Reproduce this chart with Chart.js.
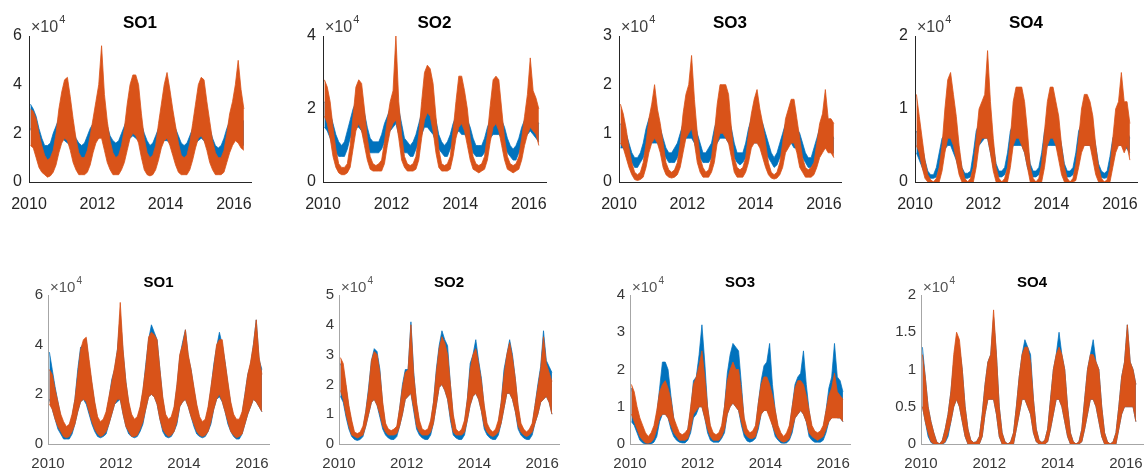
<!DOCTYPE html>
<html>
<head>
<meta charset="utf-8">
<script src="https://cdn.jsdelivr.net/npm/chart.js@4.4.0/dist/chart.umd.min.js"></script>
<style>
body { margin:0; background:#fff; width:1144px; height:468px; position:relative; overflow:hidden; }
canvas { position:absolute; }
</style>
</head>
<body>
<script>
// monthly high / low envelope of each daily series, Jan 2010 .. Apr 2016, in thousands
// row a (top)
var a1BlueHi   = [32,30,27,22,18,15,15,16,20,23,26,27, 26,25,24,21,18,16,15,16,19,22,24,26, 28,30,27,23,19,17,16,17,20,23,26,28, 28,28,27,24,20,17,15,16,19,22,26,28, 28,26,25,22,19,16,15,16,19,22,26,28, 28,27,25,22,18,15,14,15,18,22,25,27, 28,27,26,25];
var a1BlueLo   = [22,19,15,12,10,8,8,9,11,14,17,18, 17,16,15,13,11,10,10,10,12,14,16,17, 18,19,17,14,11,10,10,10,12,14,17,18, 19,18,17,15,12,10,9,9,11,14,16,17, 17,16,15,13,11,10,9,9,11,14,16,17, 18,17,15,13,11,9,8,9,11,14,16,17, 18,17,16,15];
var a1OrangeHi = [30,29,26,20,15,11,9,10,13,20,30,37, 42,43,35,26,18,12,10,10,13,19,26,33, 40,56,36,25,17,12,10,11,15,22,32,40, 44,44,40,28,18,12,10,11,15,24,32,40, 45,38,30,23,16,11,10,11,16,24,32,40, 43,42,33,25,17,12,10,10,13,20,28,33, 40,50,38,30];
var a1OrangeLo = [15,14,10,6,4,3,2,2.5,4,7,12,16, 18,17,13,8,5,3,3,3,4,7,12,16, 18,18,13,8,5,3,3,3,5,8,13,18, 20,19,16,10,5,3,2.5,3,5,9,14,17, 18,15,11,7,4,3,3,3,5,9,14,18, 19,17,13,8,5,3,3,3,4,8,12,15, 17,16,14,13];

var a2BlueHi   = [22,21,19,16,13,11,10,11,14,17,20,22, 23,22,19,15,12,11,11,11,13,16,18,20, 22,25,20,16,12,11,10,11,13,16,19,21, 22,21,20,17,13,11,10,11,13,16,18,20, 20,19,17,15,12,10,10,10,12,15,17,19, 19,18,17,15,12,10,9,10,12,15,17,19, 20,18,17,16];
var a2BlueLo   = [15,14,12,10,8,7,7,7,9,12,14,15, 15,14,12,10,8,8,8,8,9,11,13,14, 15,16,13,10,8,8,7,7,9,11,13,15, 15,14,13,11,9,8,7,7,9,11,13,14, 13,13,12,10,8,7,7,7,8,10,12,13, 13,13,12,10,8,7,6,6,8,10,12,13, 14,13,12,11];
var a2OrangeHi = [28,26,22,15,9,5,4,4,5,10,18,26, 28,27,20,12,7,5,4.5,5,6,11,17,22, 25,40,22,13,7,5,4.5,5,7,13,22,30, 32,31,27,18,9,5,4.5,5,7,14,22,29, 29,25,20,12,7,5,4.5,5,7,13,21,28, 29,28,20,12,7,5,4.5,5,7,12,18,24, 34,25,23,20];
var a2OrangeLo = [18,16,12,7,4,2.5,2,2,2.5,4,9,14, 16,14,10,6,3.5,3,3,3,3,5,10,14, 16,17,12,6,4,3,3,3,3.5,6,12,17, 19,18,14,8,4,3,3,3,3.5,7,12,15, 16,14,10,6,3.5,3,2.5,3,3.5,6,11,15, 16,14,10,6,3.5,3,2.5,3,3.5,6,10,13, 15,14,13,10];

var a3BlueHi   = [12,11,10,8,6,5,5,6,8,11,13,14, 14,12,11,9,7,6,6,7,8,10,12,14, 15,16,13,10,8,6,6,7,8,11,13,14, 15,14,13,11,8,6,6,6,8,11,13,14, 14,13,12,10,8,6,5,6,8,10,12,13, 13,12,11,10,8,6,5,5,7,9,11,12, 12,11,10,9];
var a3BlueLo   = [7,7,6,5,4,3,3,4,5,7,8,8, 8,8,7,6,5,4,4,4,5,7,8,9, 9,9,8,6,5,4,4,4,5,7,8,9, 9,9,8,7,5,4,3.5,4,5,7,8,8, 8,8,7,6,5,4,3,3.5,5,6,7,8, 8,7,7,6,5,4,3,3,4,6,7,7, 7,7,6,6];
var a3OrangeHi = [16,14,11,7,4,2,1.5,2,4,8,13,16, 20,15,12,8,4,2.5,2,2.5,4,8,14,18, 20,26,17,10,5,3,2,2.5,5,10,16,20, 20,20,18,11,5,3,2.5,3,5,10,14,17, 19,15,12,8,4,2,1.5,2,4,8,13,15, 17,17,13,9,5,3,2.5,3,4,8,12,14, 19,13,13,12];
var a3OrangeLo = [8,7,5,3,1.5,0.5,0.3,0.5,1,3,6,8, 9,8,6,3,1.5,1,0.8,1,1.5,3,6,9, 10,11,8,4,2,1,1,1,2,4,8,10, 10,9,8,5,2,1,1,1,2,4,7,8, 8,7,5,3,1.5,0.8,0.6,0.8,1.5,3,6,7, 8,8,6,3,2,1,1,1,1.5,3,5,6, 7,6,6,5];

var a4BlueHi   = [7,6,5,3,1.5,1,1,2,4,6,6.5,7, 8,7,6,4,2,1.2,1.2,1.5,4,7,8,9, 9,10,8,5,2.5,1.5,1.5,2,4,7,8,8, 8,8,7,5,2.5,1.5,1.5,2,4,7,8,8, 9,8,7,5,2.5,1.5,1.5,2,4,7,8,8, 8,8,7,5,2.5,1.5,1.2,1.5,3.5,6,7,8, 9,8,7,6];
var a4BlueLo   = [4,3,2,1,0.5,0.5,0.5,0.7,2,4,4.5,5, 5,4,3,1.5,0.8,0.5,0.5,0.7,2,4,5,5.5, 6,6,4,2,1,0.7,0.7,1,2,4,5,5, 5,5,4,2,1,0.7,0.7,1,2,4,5,5, 5,5,4,2,1,0.7,0.7,1,2,4,5,5, 5,5,4,2,1,0.6,0.5,0.6,1.5,4,5,5, 5,5,4.5,4];
var a4OrangeHi = [12,9,6,3,1,0.3,0,0.5,2,5,10,14, 15,12,9,5,2,0.5,0,0.5,2,6,10,11, 12,18,11,6,2,0.5,0,0.5,2,6,11,13, 13,13,11,7,2,0.5,0,0.5,2.5,7,11,13, 13,11,9,5,2,0.5,0,0.5,2.5,6,10,12, 12,11,9,5,2,0.5,0,0.3,2,6,10,11, 15,11,11,8];
var a4OrangeLo = [5,4,2,0.5,0,0,0,0,0,1.5,4,6, 6,5,3,1,0,0,0,0,0,2,5,6, 6,6,4,1.5,0,0,0,0,0,2,5,6, 6,5,4,2,0,0,0,0,0,2,5,6, 6,5,3,1,0,0,0,0,0.2,2,4,5, 5,5,3,1,0,0,0,0,0,2,4,5, 5,4,5,3];

// row b (bottom)
var b1BlueHi   = [37,30,23,17,11,8,6,7,11,18,30,39, 40,42,32,24,16,10,8,9,12,18,26,30, 38,52,37,25,16,11,9,10,14,21,32,42, 48,45,42,30,18,11,9,10,14,23,35,41, 46,35,30,22,15,10,8,9,14,22,32,39, 45,40,33,24,16,11,8,9,12,20,28,32, 40,50,34,30];
var b1BlueLo   = [18,14,10,6,4,2,2,2,4,8,13,17, 18,16,12,8,5,3,2.5,3,4,8,12,16, 17,18,12,7,4,3,2.5,3,5,8,14,19, 20,19,16,10,5,3,2.5,3,5,8,15,17, 18,15,11,7,4,3,2.5,3,5,8,14,18, 19,17,13,8,5,3,2,2,4,8,12,15, 18,17,15,13];
var b1OrangeHi = [30,28,22,17,12,9,7,8,12,18,28,38, 42,43,34,25,17,11,9,10,13,19,25,31, 38,57,38,25,17,12,10,11,15,22,31,43, 45,44,42,30,19,12,10,11,15,24,36,40, 46,36,30,23,16,11,9,10,15,23,31,40, 42,42,33,25,17,12,10,10,13,20,28,33, 40,50,35,28];
var b1OrangeLo = [16,14,10,7,5,3,2.5,3,5,8,13,17, 18,17,13,9,6,4,3,3.5,5,8,12,16, 18,18,12,7,5,3,3,3.5,6,9,14,19, 20,19,16,10,6,4,3,3.5,5,9,15,17, 18,15,11,8,5,3.5,3,3.5,5,9,14,18, 20,17,13,9,5,3.5,2.5,3,4,8,12,15, 18,17,15,13];

var b2BlueHi   = [27,25,19,12,7,3,2.5,3,5,11,19,28, 32,31,25,13,6,4,3,3.5,5,12,20,25, 25,41,24,13,7,4,3,3.5,7,14,25,33, 38,35,33,20,9,4,3,4,7,15,27,30, 35,28,22,12,6,4,3,3.5,7,14,25,30, 35,30,22,12,6,4,3,3.5,6,13,20,26, 38,28,26,24];
var b2BlueLo   = [16,14,9,5,2.5,1.5,1.2,1.5,2.5,6,10,14, 15,13,9,5,3,2,1.5,1.5,2.5,6,10,15, 16,17,11,5,3,2,1.5,1.5,3,7,13,19, 20,18,15,8,3,2,1.5,1.5,3,8,13,16, 17,15,11,5,3,2,1.5,1.5,3,7,12,17, 17,15,11,5,3,2,1.5,1.5,3,7,10,14, 15,16,14,10];
var b2OrangeHi = [29,27,20,13,8,4,3.5,4,6,11,18,28, 31,30,24,14,7,5,4.5,5,6,12,19,24, 25,40,23,14,8,5,4.5,5,8,14,24,32, 36,34,30,20,10,5,4,5,8,15,25,30, 32,27,21,13,7,5,4,5,8,14,23,30, 34,29,22,13,7,5,4,5,7,13,19,25, 36,27,24,21];
var b2OrangeLo = [18,15,10,6,3,2.5,2,2.5,3,6,10,14, 15,13,10,6,4,3,3,3,3.5,6,10,15, 16,17,12,6,4,3,3,3,4,7,13,19, 20,18,15,9,4,3,3,3,4,8,13,16, 17,15,11,6,4,3,2.5,3,4,7,12,17, 17,15,11,6,4,3,2.5,3,4,7,10,14, 15,16,14,10];

var b3BlueHi   = [15,12,8,5,3,1.5,1,1.5,4,8,15,22, 22,20,13,7,3.5,2,1.5,2,4,9,17,18, 24,32,22,10,4,2,1.5,2,4,10,19,24, 27,26,25,16,6,3,2,2.5,4,11,17,21, 22,27,16,9,4,2,1.5,2,4,10,16,18, 19,25,16,9,4,2.5,2,2.5,4,9,15,18, 27,18,17,14];
var b3BlueLo   = [6,5,3,1,0.3,0,0,0,0.5,2,6,8, 8,7,4,2,1,0.5,0.3,0.3,1,3,7,8, 10,10,7,3,1,0.5,0.5,0.5,1.5,3,8,10, 11,10,9,5,2,0.8,0.5,0.8,1.5,4,8,9, 9,8,5,2,1,0.3,0.2,0.3,1,3,7,8, 9,8,6,2,1,0.5,0.5,0.5,1,3,6,7, 8,7,7,6];
var b3OrangeHi = [16,14,10,7,5,3,2,3,5,9,14,16, 17,15,12,7,5,3,2.5,3,4,10,16,18, 21,25,18,10,5,3,2.5,3,5,10,17,20, 22,20,20,14,7,4,3,3.5,5,11,16,18, 18,16,13,9,5,3,2,3,5,10,15,17, 17,16,13,9,5,3.5,3,3.5,5,9,13,15, 19,14,13,12];
var b3OrangeLo = [8,6,4,2,1,0.3,0.2,0.5,1.5,4,7,8, 8,7,5,3,2,1,1,1,1.5,4,8,9, 10,10,7,4,2,1,1,1,2,4,8,10, 11,10,9,6,3,2,1.5,1.5,2,5,8,9, 9,7,5,3,1.5,0.8,0.5,0.8,1.5,4,7,8, 9,8,6,3,2,1.5,1,1.5,2,4,6,7, 7,7,7,6];

var b4BlueHi   = [13,9,5,3,1.5,0.3,0,0.5,2,4,7,11, 14,13,10,5,2,0.5,0.2,0.3,1,4,8,11, 12,17,12,5,1.5,0.3,0,0.3,1.5,5,9,12, 14,13,12,6,2,0.5,0.2,0.5,2,6,10,12, 15,12,10,5,1.5,0.3,0,0.3,2,6,10,12, 14,11,10,5,1.5,0.3,0,0.3,1.5,5,9,11, 16,11,10,8];
var b4BlueLo   = [5,3,1,0.2,0,0,0,0,0.2,1,3,5, 6,5,3,1,0,0,0,0,0,1,4,6, 6,6,4,1,0,0,0,0,0,2,4,6, 6,5,4,1.5,0.3,0,0,0,0.3,2,4,6, 6,5,3,1,0,0,0,0,0.3,2,4,6, 6,5,3,1,0,0,0,0,0,2,4,5, 5,5,5,3];
var b4OrangeHi = [12,9,5,3,1.5,0.3,0,0.5,2,4,7,12, 15,14,10,5,2,0.5,0.2,0.3,1,4,8,11, 12,18,12,5,1.5,0.3,0,0.3,1.5,5,9,12, 13,13,11,6,2,0.5,0.2,0.5,2,6,10,12, 13,12,10,5,1.5,0.3,0,0.3,2,6,10,12, 12,11,10,5,1.5,0.3,0,0.3,1.5,5,9,11, 16,11,10,8];
var b4OrangeLo = [5,3,1.5,0.3,0,0,0,0,0.3,1.5,3,5, 6,5,3,1,0,0,0,0,0,1,4,6, 6,6,4,1,0,0,0,0,0,2,4,6, 6,5,4,1.5,0.3,0,0,0,0.3,2,4,6, 6,5,3,1,0,0,0,0,0.3,2,4,6, 6,5,3,1,0,0,0,0,0,2,4,5, 5,5,5,3];

var yearTicks = [2010, 2012, 2014, 2016];

var panels = [
  {row:0, title:'SO1', left:29,  w:222, yMax:6, yStep:2,   b:[a1BlueHi,a1BlueLo], o:[a1OrangeHi,a1OrangeLo]},
  {row:0, title:'SO2', left:323, w:223, yMax:4, yStep:2,   b:[a2BlueHi,a2BlueLo], o:[a2OrangeHi,a2OrangeLo]},
  {row:0, title:'SO3', left:619, w:222, yMax:3, yStep:1,   b:[a3BlueHi,a3BlueLo], o:[a3OrangeHi,a3OrangeLo]},
  {row:0, title:'SO4', left:915, w:222, yMax:2, yStep:1,   b:[a4BlueHi,a4BlueLo], o:[a4OrangeHi,a4OrangeLo]},
  {row:1, title:'SO1', left:48,  w:221, yMax:6, yStep:2,   b:[b1BlueHi,b1BlueLo], o:[b1OrangeHi,b1OrangeLo]},
  {row:1, title:'SO2', left:339, w:220, yMax:5, yStep:1,   b:[b2BlueHi,b2BlueLo], o:[b2OrangeHi,b2OrangeLo]},
  {row:1, title:'SO3', left:630, w:220, yMax:4, yStep:1,   b:[b3BlueHi,b3BlueLo], o:[b3OrangeHi,b3OrangeLo]},
  {row:1, title:'SO4', left:921, w:222, yMax:2, yStep:0.5, b:[b4BlueHi,b4BlueLo], o:[b4OrangeHi,b4OrangeLo]}
];

var rows = [
  {top:0,   h:216, plotTop:36, plotBottom:182, titleSize:17, titlePad:13, tickSize:16, xPad:13, yPad:7,
   text:'#262626', axis:'#262626', expo:'#404040', expoGap:4},
  {top:258, h:210, plotTop:37, plotBottom:186, titleSize:15, titlePad:16, tickSize:15, xPad:11, yPad:5,
   text:'#383838', axis:'#a6a6a6', expo:'#555555', expoGap:3}
];

var YW = 40, RP = 24;
var BLUE = 'rgba(0,114,189,0.75)', BLUE_FILL = '#0072bd';
var ORANGE = 'rgba(217,83,25,0.8)', ORANGE_FILL = '#d95319';

function monthly(vals) {
  return vals.map(function(v, m) { return {x: 2010 + (m + 0.5) / 12, y: v / 10}; });
}

var exponentLabel = {
  id: 'exponentLabel',
  afterDraw: function(chart, args, opts) {
    var ctx = chart.ctx, a = chart.chartArea;
    ctx.save();
    ctx.fillStyle = opts.color;
    ctx.textBaseline = 'alphabetic';
    ctx.textAlign = 'left';
    ctx.font = opts.size + 'px "Liberation Sans", Arial, sans-serif';
    var x = a.left + 2, y = a.top - opts.gap;
    ctx.fillText('\u00d710', x, y);
    var w = ctx.measureText('\u00d710').width;
    ctx.font = Math.round(opts.size * 0.68) + 'px "Liberation Sans", Arial, sans-serif';
    ctx.fillText('4', x + w + 1, y - opts.size * 0.55);
    ctx.restore();
  }
};

panels.forEach(function(p) {
  var r = rows[p.row];
  var cv = document.createElement('canvas');
  cv.width = YW + p.w + RP; cv.height = r.h;
  cv.style.left = (p.left - YW) + 'px';
  cv.style.top = r.top + 'px';
  document.body.appendChild(cv);

  var lh = r.titleSize * 1.2;
  var font = '"Liberation Sans", Arial, sans-serif';

  new Chart(cv.getContext('2d'), {
    type: 'line',
    data: {
      datasets: [
        {data: monthly(p.b[0]), fill: '+1', backgroundColor: BLUE_FILL, borderColor: BLUE, borderWidth: 1, pointRadius: 0, order: 3},
        {data: monthly(p.b[1]), fill: false, borderColor: BLUE, borderWidth: 1, pointRadius: 0, order: 2},
        {data: monthly(p.o[0]), fill: '+1', backgroundColor: ORANGE_FILL, borderColor: ORANGE, borderWidth: 1, pointRadius: 0, order: 1},
        {data: monthly(p.o[1]), fill: false, borderColor: ORANGE, borderWidth: 1, pointRadius: 0, order: 0}
      ]
    },
    options: {
      responsive: false,
      animation: false,
      events: [],
      layout: {padding: {left: 0, right: RP, top: 0, bottom: 0}},
      scales: {
        x: {
          type: 'linear', min: 2010, max: 2016.5,
          grid: {display: false, drawTicks: false},
          border: {display: true, color: r.axis, width: 1},
          afterBuildTicks: function(s) { s.ticks = yearTicks.map(function(v) { return {value: v}; }); },
          afterFit: function(s) { s.height = r.h - r.plotBottom; },
          ticks: {
            color: r.text, padding: r.xPad, maxRotation: 0, autoSkip: false,
            font: {family: font, size: r.tickSize},
            callback: function(v) { return String(v); }
          }
        },
        y: {
          min: 0, max: p.yMax,
          grid: {display: false, drawTicks: false},
          border: {display: true, color: r.axis, width: 1},
          afterFit: function(s) { s.width = YW; },
          ticks: {
            color: r.text, padding: r.yPad, stepSize: p.yStep,
            font: {family: font, size: r.tickSize},
            callback: function(v) { return String(Math.round(v * 100) / 100); }
          }
        }
      },
      plugins: {
        legend: {display: false},
        tooltip: {enabled: false},
        title: {
          display: true, text: p.title, fullSize: false, color: '#000',
          font: {family: font, size: r.titleSize, weight: 'bold'},
          padding: {top: r.titlePad, bottom: r.plotTop - r.titlePad - lh}
        },
        exponentLabel: {color: r.expo, size: r.tickSize, gap: r.expoGap}
      }
    },
    plugins: [exponentLabel]
  });
});
</script>
</body>
</html>
